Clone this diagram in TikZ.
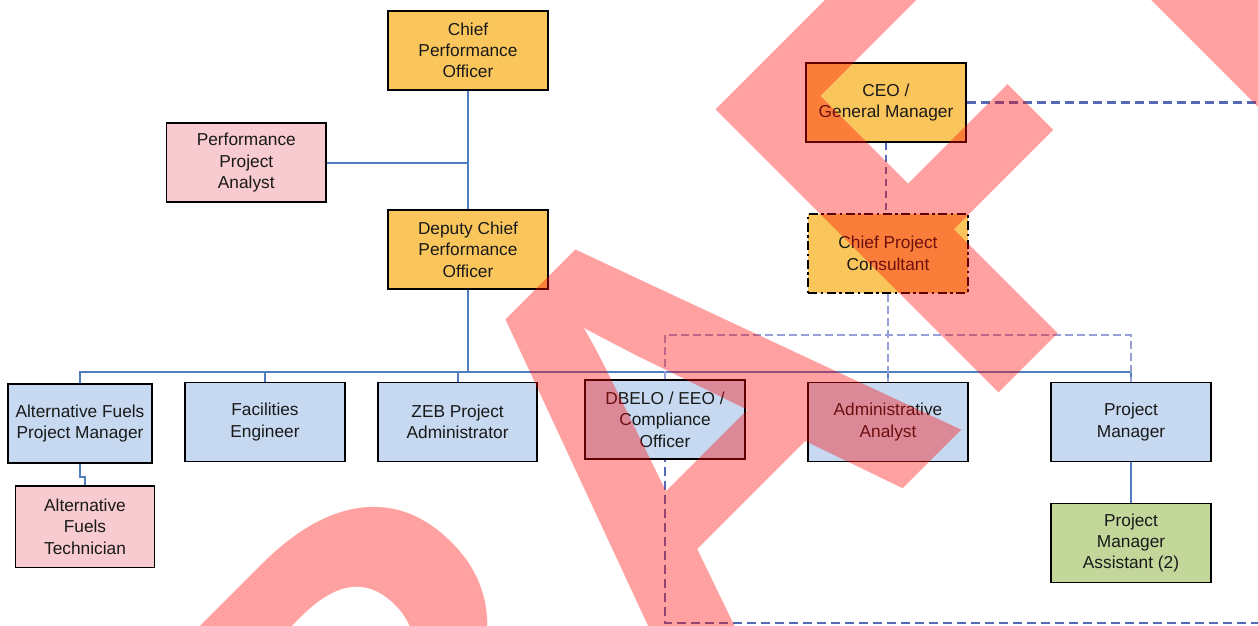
\documentclass[tikz,border=0pt]{standalone}
\usepackage{fontspec}
\setmainfont{Liberation Sans}
\usetikzlibrary{calc}
\definecolor{cyel}{RGB}{250,198,92}
\definecolor{cpink}{RGB}{247,203,208}
\definecolor{cblue}{RGB}{198,217,240}
\definecolor{cgreen}{RGB}{196,215,155}
\definecolor{cline}{RGB}{79,125,192}
\definecolor{cdash}{RGB}{85,105,180}
\definecolor{cdashl}{RGB}{150,160,215}
\begin{document}
\begin{tikzpicture}[x=1pt,y=-1pt,
  box/.style={draw=black, line width=1.8pt, inner sep=0pt, minimum width=159.5pt,
    minimum height=79pt, align=center, font=\fontsize{17.3}{21.3}\selectfont, text=black!90},
  yelbox/.style={box, fill=cyel},
  pinkbox/.style={box, fill=cpink},
  bluebox/.style={box, fill=cblue},
  greenbox/.style={box, fill=cgreen},
  conn/.style={draw=cline, line width=2pt},
  thinconn/.style={draw=cline, line width=1.5pt},
  dashheavy/.style={draw=cdash, line width=2.2pt, dash pattern=on 9pt off 5pt},
  dashmid/.style={draw=cdash, line width=1.6pt, dash pattern=on 7pt off 5pt},
  dashlight/.style={draw=cdashl, line width=1.3pt, dash pattern=on 8pt off 4pt},
  wm/.style={text=red, text opacity=0.37, font=\fontsize{582}{582}\selectfont\bfseries,
    anchor=base west, rotate=45, inner sep=0pt, outer sep=0pt}
]
\useasboundingbox (0,0) rectangle (1258,626);
\fill[white] (0,0) rectangle (1258,626);

% boxes
\node[yelbox] (cpo) at (468,50.3) {Chief\\Performance\\Officer};
\node[pinkbox] (ppa) at (246.3,162.7) {Performance\\Project\\Analyst};
\node[yelbox] (dcpo) at (468,249.7) {Deputy Chief\\Performance\\Officer};
\node[yelbox] (ceo) at (886,102.5) {CEO /\\General Manager};
\node[yelbox, dash pattern=on 9pt off 3.5pt on 2.5pt off 3.5pt] (cpc) at (888,253.2) {Chief Project\\Consultant};
\node[bluebox, minimum width=144pt, minimum height=79.5pt] (afpm) at (80,423.4) {Alternative Fuels\\Project Manager};
\node[bluebox] (fe) at (265,421.9) {Facilities\\Engineer};
\node[bluebox] (zeb) at (457.6,421.9) {ZEB Project\\Administrator};
\node[bluebox] (dbelo) at (665,419.7) {DBELO / EEO /\\Compliance\\Officer};
\node[bluebox] (aa) at (888,421.9) {Administrative\\Analyst};
\node[bluebox] (pm) at (1131,421.9) {Project\\Manager};
\node[pinkbox, minimum width=139pt, minimum height=81.5pt] (aft) at (85,526.7) {Alternative\\Fuels\\Technician};
\node[greenbox] (pma) at (1131,542.9) {Project\\Manager\\Assistant (2)};

\coordinate (bus) at (0,372.3);
\coordinate (top) at (0,335);
\coordinate (rb) at (1266,623.3);

% solid connectors
\draw[conn] (cpo.south) -- (dcpo.north);
\draw[conn] (ppa.east) -- (ppa.east -| cpo.south);
\draw[conn] (dcpo.south) -- (dcpo.south |- bus);
\draw[conn] (afpm.north) -- (afpm.north |- bus) -- (pm.north |- bus) -- (pm.north);
\draw[conn] (fe.north) -- (fe.north |- bus);
\draw[conn] (zeb.north) -- (zeb.north |- bus);
\draw[conn] (dbelo.north) -- (dbelo.north |- bus);
\draw[conn] (aa.north) -- (aa.north |- bus);
\draw[thinconn] (afpm.south) -- ++(0,13) -| (aft.north);
\draw[conn] (pm.south) -- (pma.north);

% dashed connectors
\draw[dashmid] (ceo.south) -- (ceo.south |- cpc.north);
\draw[dashlight] (cpc.south) -- (aa.north);
\draw[dashlight] (dbelo.north) -- (dbelo.north |- top) -| (pm.north);
\draw[dashheavy] (ceo.east) -| (rb) -| (dbelo.south);

% watermark
\begin{scope}
\clip (0,0) rectangle (1258,626);
\node[wm] (wmR) at (376.3,1016.9) {R};
\node[wm] (wmA) at (675.2,716.8) {A};
\node[wm] (wmT) at (1175.3,216.7) {T};
\begin{scope}
\clip (-100,-100) -- (823.5,-100) -- (1823.5,900) -- (-100,900) -- cycle;
\node[wm] (wmF) at (971.1,420.9) {F};
\end{scope}
\end{scope}
\end{tikzpicture}
\end{document}
